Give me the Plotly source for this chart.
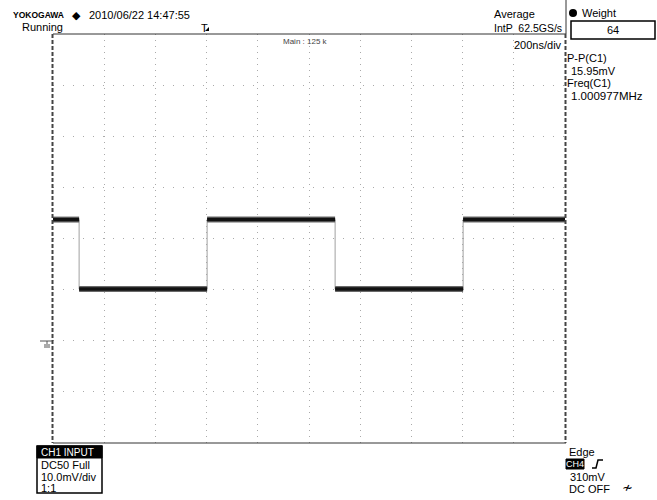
import plotly.graph_objects as go

# ---- data (time in ns, voltage in mV relative to screen centre) ----
edge_times_ns = [-1000, -898, -398, 102, 602, 1000]
segment_levels_mv = [3.7, -9.9, 3.7, -9.9, 3.7]
ground_level_mv = -20
time_range_ns = [-1000, 1000]
volt_range_mv = [-40, 40]
time_per_div_ns = 200
volt_per_div_mv = 10

W, H = 657, 500
L, R, T, B = 53, 565, 34, 443


def px(x):
    return (x - L) / (R - L)


def py(y):
    return (B - y) / (B - T)


# horizontal segments
hx, hy = [], []
for i, lv in enumerate(segment_levels_mv):
    hx += [edge_times_ns[i], edge_times_ns[i + 1], None]
    hy += [lv, lv, None]
# vertical transitions
vx, vy = [], []
for i in range(1, len(edge_times_ns) - 1):
    vx += [edge_times_ns[i], edge_times_ns[i], None]
    vy += [segment_levels_mv[i - 1], segment_levels_mv[i], None]

fig = go.Figure()
fig.add_trace(go.Scatter(x=vx, y=vy, mode="lines",
                         line=dict(color="#a0a0a0", width=1), hoverinfo="skip"))
fig.add_trace(go.Scatter(x=hx, y=hy, mode="lines",
                         line=dict(color="#6a6a6a", width=6), hoverinfo="skip"))
fig.add_trace(go.Scatter(x=hx, y=hy, mode="lines",
                         line=dict(color="#111111", width=3.5), hoverinfo="skip"))

shapes = []
dark = "#444444"
# frame
shapes.append(dict(type="line", xref="paper", yref="paper", x0=px(53), x1=px(566),
                   y0=py(34), y1=py(34), line=dict(color="#333", width=1)))
shapes.append(dict(type="line", xref="paper", yref="paper", x0=px(53), x1=px(566),
                   y0=py(443), y1=py(443), line=dict(color="#333", width=1)))
shapes.append(dict(type="line", xref="paper", yref="paper", x0=px(52.5), x1=px(52.5),
                   y0=py(34), y1=py(443), line=dict(color=dark, width=2, dash="4px,2px")))
shapes.append(dict(type="line", xref="paper", yref="paper", x0=px(565.5), x1=px(565.5),
                   y0=py(34), y1=py(443), line=dict(color=dark, width=2, dash="4px,2px")))
shapes.append(dict(type="line", xref="paper", yref="paper", x0=px(566), x1=px(566),
                   y0=py(0), y1=py(34), line=dict(color="#333", width=1)))
# weight box
shapes.append(dict(type="rect", xref="paper", yref="paper", x0=px(571), x1=px(655),
                   y0=py(21), y1=py(39), line=dict(color="#000", width=1.5)))
shapes.append(dict(type="circle", xref="paper", yref="paper", x0=px(569), x1=px(577),
                   y0=py(9), y1=py(17), fillcolor="#000", line=dict(color="#000", width=0)))
# CH1 INPUT box
shapes.append(dict(type="rect", xref="paper", yref="paper", x0=px(37), x1=px(102),
                   y0=py(446), y1=py(493), line=dict(color="#000", width=1.5)))
shapes.append(dict(type="rect", xref="paper", yref="paper", x0=px(37), x1=px(102),
                   y0=py(446), y1=py(458), fillcolor="#000", line=dict(color="#000", width=1)))
# CH4 badge
shapes.append(dict(type="rect", xref="paper", yref="paper", x0=px(566), x1=px(584),
                   y0=py(459), y1=py(469), fillcolor="#000", line=dict(color="#000", width=1)))
# rising edge symbol
shapes.append(dict(type="path", xref="paper", yref="paper",
                   path=f"M {px(592)},{py(468)} L {px(596)},{py(468)} L {px(598)},{py(460)} L {px(603)},{py(460)}",
                   line=dict(color="#000", width=1.5)))
# ground marker
shapes.append(dict(type="line", xref="paper", yref="paper", x0=px(40), x1=px(52),
                   y0=py(341), y1=py(341), line=dict(color="#555", width=1)))
shapes.append(dict(type="line", xref="paper", yref="paper", x0=px(47), x1=px(47),
                   y0=py(341), y1=py(344), line=dict(color="#555", width=1)))
shapes.append(dict(type="rect", xref="paper", yref="paper", x0=px(44), x1=px(50),
                   y0=py(344), y1=py(348), fillcolor="#aaa", line=dict(color="#aaa", width=0)))
# trigger marker arrow
shapes.append(dict(type="path", xref="paper", yref="paper",
                   path=f"M {px(205)},{py(31)} L {px(209)},{py(31)} L {px(209)},{py(27)} Z",
                   fillcolor="#000", line=dict(color="#000", width=0)))

FONT = "Liberation Sans"


def txt(x, y, s, size=11, color="#000", xa="left", bold=False, family=FONT):
    return dict(x=px(x), y=py(y), xref="paper", yref="paper", text=(f"<b>{s}</b>" if bold else s),
                showarrow=False, xanchor=xa, yanchor="middle",
                font=dict(family=family, size=size, color=color))


ann = [
    txt(11, 15, "YOKOGAWA", size=8.5, bold=True),
    txt(70, 15, "◆", size=11, family="DejaVu Sans"),
    txt(87, 15, "2010/06/22 14:47:55", size=11),
    txt(20, 27, "Running", size=11),
    txt(199, 28, "T", size=11),
    txt(281, 42, "Main : 125 k", size=8, color="#444"),
    txt(492, 14, "Average", size=11),
    txt(492, 28, "IntP  62.5GS/s", size=10.5),
    txt(564, 45, "200ns/div", size=11, xa="right"),
    txt(580, 13, "Weight", size=11),
    txt(613, 30, "64", size=11, xa="center"),
    txt(565, 58, "P-P(C1)", size=11),
    txt(569, 71, "15.95mV", size=11),
    txt(565, 83, "Freq(C1)", size=11),
    txt(569, 96, "1.000977MHz", size=11.5),
    txt(39, 452, "CH1 INPUT", size=10, color="#fff"),
    txt(39, 465, "DC50 Full", size=11),
    txt(39, 477, "10.0mV/div", size=11),
    txt(39, 488, "1:1", size=11),
    txt(567, 452, "Edge", size=11),
    txt(575, 464, "CH4", size=9, color="#fff", xa="center"),
    txt(568, 477, "310mV", size=11),
    txt(567, 489, "DC OFF", size=11),
    txt(620, 488, "≁", size=13, family="DejaVu Sans"),
]

fig.update_layout(
    width=W, height=H,
    margin=dict(l=L, r=W - R, t=T, b=H - B, pad=0),
    paper_bgcolor="white", plot_bgcolor="white",
    showlegend=False,
    shapes=shapes, annotations=ann,
    xaxis=dict(range=time_range_ns, dtick=time_per_div_ns, tick0=time_range_ns[0],
               showgrid=True, gridcolor="#aaa", gridwidth=1, griddash="1px,5px",
               zeroline=False, showticklabels=False, ticks="", showline=False, fixedrange=True),
    yaxis=dict(range=volt_range_mv, dtick=volt_per_div_mv, tick0=volt_range_mv[0],
               showgrid=True, gridcolor="#aaa", gridwidth=1, griddash="1px,9px",
               zeroline=False, showticklabels=False, ticks="", showline=False, fixedrange=True),
)

fig.write_html("out.html", config={"displayModeBar": False},
               post_script="document.body.style.margin='0';document.body.style.padding='0';")
